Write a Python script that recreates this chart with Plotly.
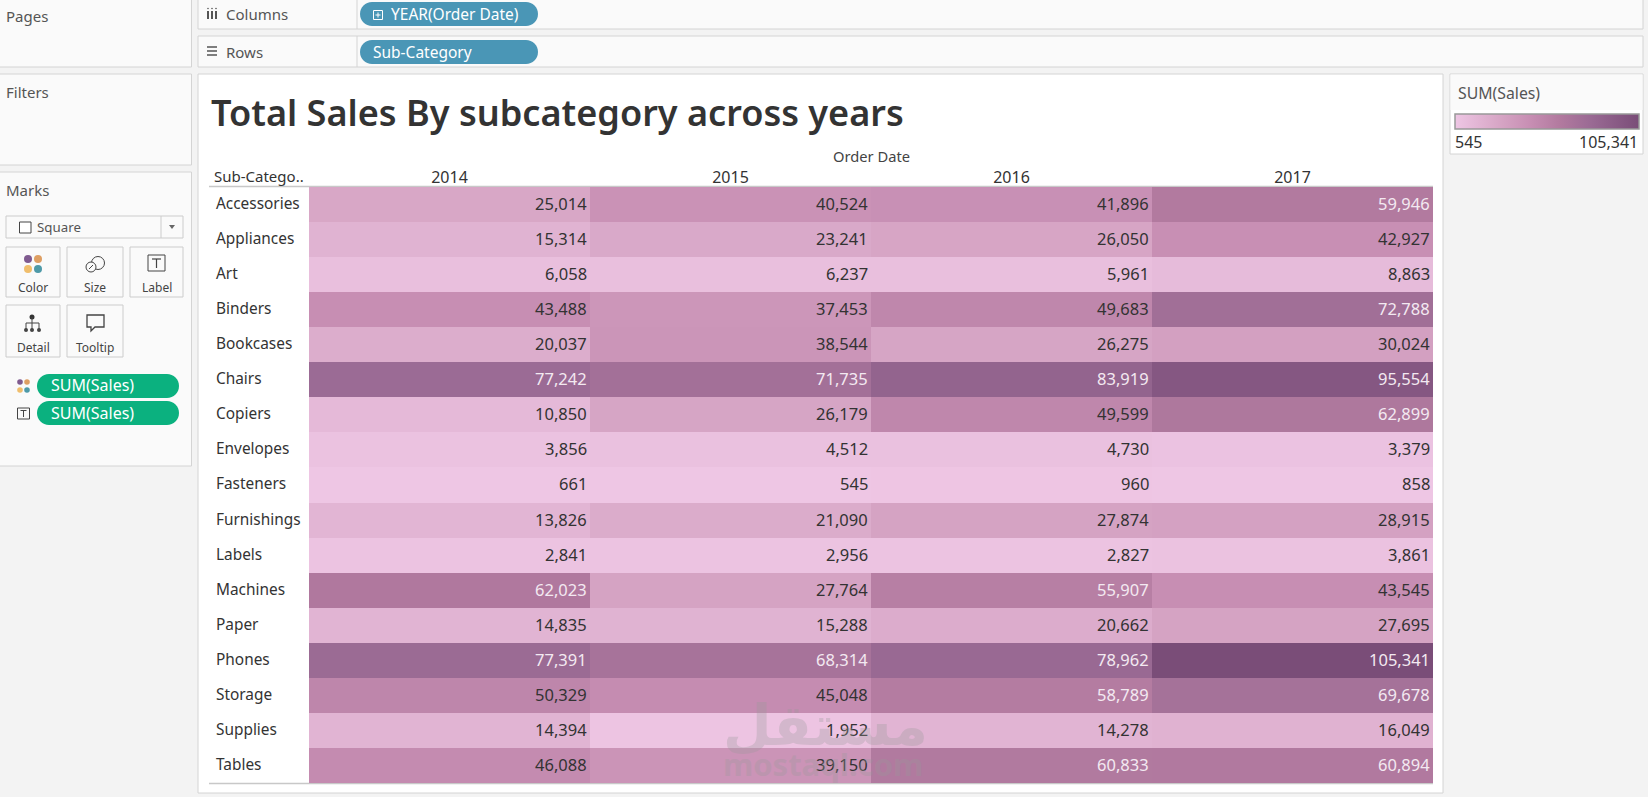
import plotly.graph_objects as go

W, H = 1648, 797

sub_categories = ["Accessories", "Appliances", "Art", "Binders", "Bookcases", "Chairs", "Copiers",
                  "Envelopes", "Fasteners", "Furnishings", "Labels", "Machines", "Paper", "Phones",
                  "Storage", "Supplies", "Tables"]
years = ["2014", "2015", "2016", "2017"]
sales_2014 = [25014, 15314, 6058, 43488, 20037, 77242, 10850, 3856, 661, 13826, 2841, 62023, 14835, 77391, 50329, 14394, 46088]
sales_2015 = [40524, 23241, 6237, 37453, 38544, 71735, 26179, 4512, 545, 21090, 2956, 27764, 15288, 68314, 45048, 1952, 39150]
sales_2016 = [41896, 26050, 5961, 49683, 26275, 83919, 49599, 4730, 960, 27874, 2827, 55907, 20662, 78962, 58789, 14278, 60833]
sales_2017 = [59946, 42927, 8863, 72788, 30024, 95554, 62899, 3379, 858, 28915, 3861, 43545, 27695, 105341, 69678, 16049, 60894]
sales_by_year = [sales_2014, sales_2015, sales_2016, sales_2017]
sales_min, sales_max = 545, 105341
color_stops = [[0, "#EEC6E4"], [0.26, "#D5A3C3"], [0.41, "#C78EB3"], [0.57, "#B27A9F"], [0.74, "#9A6A94"], [1, "#7A4D78"]]
white_text_from = 55000

FONT = "Noto Sans"
PANEL_BG, PANEL_LINE, PAGE_BG = "#FAFAFA", "#D4D4D4", "#F3F3F3"
TEXT, LABEL = "#333333", "#555555"
LIGHT_TEXT = "#F3E9F1"
BLUE, GREEN = "#4A96B6", "#0BB17F"


def X(p):
    return p / W


def Y(p):
    return 1 - p / H


shapes, notes = [], []


def rect(x0, y0, x1, y1, fill="rgba(0,0,0,0)", line=PANEL_LINE, width=1, layer="below"):
    shapes.append(dict(type="rect", xref="paper", yref="paper", x0=X(x0), y0=Y(y0), x1=X(x1), y1=Y(y1),
                       fillcolor=fill, line=dict(color=line, width=width), layer=layer))


def circle(cx, cy, r, fill="rgba(0,0,0,0)", line="rgba(0,0,0,0)", width=1):
    shapes.append(dict(type="circle", xref="paper", yref="paper", x0=X(cx - r), y0=Y(cy - r), x1=X(cx + r), y1=Y(cy + r),
                       fillcolor=fill, line=dict(color=line, width=width), layer="below"))


def seg(x0, y0, x1, y1, color=LABEL, width=1):
    shapes.append(dict(type="line", xref="paper", yref="paper", x0=X(x0), y0=Y(y0), x1=X(x1), y1=Y(y1),
                       line=dict(color=color, width=width), layer="below"))


def pill(x0, y0, x1, y1, fill):
    r = (y1 - y0) / 2
    k = r * 0.45
    pts = [("M", x0 + r, y0), ("L", x1 - r, y0),
           ("C", x1 - k, y0, x1, y0 + k, x1, y0 + r), ("C", x1, y1 - k, x1 - k, y1, x1 - r, y1),
           ("L", x0 + r, y1),
           ("C", x0 + k, y1, x0, y1 - k, x0, y0 + r), ("C", x0, y0 + k, x0 + k, y0, x0 + r, y0)]
    path = ""
    for p in pts:
        nums = p[1:]
        coords = [f"{X(nums[i]):.5f},{Y(nums[i + 1]):.5f}" for i in range(0, len(nums), 2)]
        path += p[0] + " ".join(coords) + " "
    shapes.append(dict(type="path", xref="paper", yref="paper", path=path + "Z", fillcolor=fill,
                       line=dict(width=0), layer="below"))


def label(x, y, text, size=15, color=LABEL, anchor="left", weight=400, family=FONT, opacity=1.0):
    notes.append(dict(xref="paper", yref="paper", x=X(x), y=Y(y), text=text,
                      showarrow=False, xanchor=anchor, yanchor="middle", opacity=opacity,
                      font=dict(family=family, size=size, color=color, weight=weight), borderpad=0, borderwidth=0))


# Side panels and shelves
rect(-2, -2, 191.5, 67, PANEL_BG)
rect(-2, 74, 191.5, 165, PANEL_BG)
rect(-2, 172, 191.5, 466, PANEL_BG)
rect(198, -2, 1643, 29, PANEL_BG)
rect(198, 36, 1643, 67, PANEL_BG)
seg(357, 0, 357, 29, PANEL_LINE)
seg(357, 36, 357, 67, PANEL_LINE)
rect(198, 74, 1443, 793, "#FFFFFF")
rect(1450, 74, 1643, 154, "#FFFFFF")
rect(1450.5, 74.5, 1642.5, 110, PANEL_BG, line="rgba(0,0,0,0)", width=0)

label(6, 16, "Pages")
label(6, 92, "Filters")
label(6, 190, "Marks")
label(226, 13.5, "Columns")
label(226, 52, "Rows")

# Shelf icons
for px in (208, 212, 216):
    seg(px, 11, px, 19, "#555555", 2)
    circle(px, 8.5, 0.8, "#555555")
for py in (47, 51, 55):
    seg(207, py, 217, py, "#555555", 1.5)

pill(360, 2, 538, 26, BLUE)
pill(360, 40, 538, 64, BLUE)
rect(373.5, 10.5, 382.5, 19.5, line="#FFFFFF")
seg(375.5, 15, 380.5, 15, "#FFFFFF")
seg(378, 12.5, 378, 17.5, "#FFFFFF")
label(391, 14, "YEAR(Order Date)", color="#FFFFFF", size=15.5)
label(373, 52, "Sub-Category", color="#FFFFFF", size=15.5)

# Marks card
rect(6, 216, 183, 238, "#FAFAFA", line="#CCCCCC")
seg(161, 216, 161, 238, "#CCCCCC")
rect(19.5, 222, 31, 233, "#FFFFFF", line="#444444")
label(37, 227, "Square", size=13.3)
shapes.append(dict(type="path", xref="paper", yref="paper", fillcolor="#666666", line=dict(width=0), layer="below",
                   path=f"M{X(169)},{Y(225)} L{X(175)},{Y(225)} L{X(172)},{Y(229)} Z"))

for (x0, y0, x1, y1, txt) in [(6, 247, 60, 297, "Color"), (67, 247, 123, 297, "Size"), (130, 247, 183, 297, "Label"),
                              (6, 305, 60, 357, "Detail"), (67, 305, 123, 357, "Tooltip")]:
    rect(x0, y0, x1, y1, "#FAFAFA", line="#CCCCCC")
    label((x0 + x1) / 2, y1 - 10, txt, size=12, anchor="center", color="#444444")

DOTS = ["#7F5A8F", "#DE9F63", "#F0BE6C", "#4E9AA8"]
circle(28, 259, 4, DOTS[0])
circle(38, 259, 4, DOTS[1])
circle(28, 269, 4, DOTS[2])
circle(38, 269, 4, DOTS[3])

circle(98, 263, 6.5, line="#444444")
circle(91, 267, 5, "#FAFAFA", "#444444")
seg(89, 269, 93, 265, "#444444")

rect(148, 255, 165, 271, "#FAFAFA", line="#444444")
seg(152, 259, 161, 259, "#444444", 1.2)
seg(156.5, 259, 156.5, 268, "#444444", 1.2)

circle(32, 317, 2.5, "#333333")
seg(32, 317, 32, 323, "#444444")
seg(26, 323, 39, 323, "#444444")
for px in (26, 32, 39):
    seg(px, 323, px, 330, "#444444")
    circle(px, 330, 2, "#444444")

shapes.append(dict(type="path", xref="paper", yref="paper", fillcolor="rgba(0,0,0,0)",
                   line=dict(color="#444444", width=1.3), layer="below",
                   path=f"M{X(87)},{Y(315)} L{X(104)},{Y(315)} L{X(104)},{Y(327)} L{X(95)},{Y(327)} "
                        f"L{X(91)},{Y(331)} L{X(91)},{Y(327)} L{X(87)},{Y(327)} Z"))

pill(37, 374, 179, 398, GREEN)
pill(37, 401, 179, 425, GREEN)
label(51, 385.5, "SUM(Sales)", color="#FFFFFF", size=16)
label(51, 412.5, "SUM(Sales)", color="#FFFFFF", size=16)
circle(20, 382, 2.8, DOTS[0])
circle(27, 382, 2.8, DOTS[1])
circle(20, 390, 2.8, DOTS[2])
circle(27, 390, 2.8, DOTS[3])
rect(17.5, 408, 29.5, 419, "#FAFAFA", line="#444444")
seg(20.5, 410.5, 26.5, 410.5, "#444444")
seg(23.5, 410.5, 23.5, 417, "#444444")

# View header
label(211, 112, "Total Sales By subcategory across years", size=36.1, color="#333333", weight=600)
label(871, 156, "Order Date", size=14.7, anchor="center", color="#444444")
label(214, 176.5, "Sub-Catego..", size=15, color=TEXT)
seg(209, 186.5, 1433, 186.5, "#C8C8C8", 1.5)
seg(209, 783.5, 1433, 783.5, "#C8C8C8", 1.5)

# Legend card
label(1458, 92.5, "SUM(Sales)", size=15.8)
label(1455, 141.5, f"{sales_min:,}", size=16, color=TEXT)
label(1638, 141.5, f"{sales_max:,}", size=16, color=TEXT, anchor="right")

# Row labels and cell values
for name in sub_categories:
    notes.append(dict(xref="paper", yref="y", x=X(213.5), y=name, text=name, showarrow=False, xanchor="left",
                      yanchor="middle", yshift=1, font=dict(family=FONT, size=15.4, color=TEXT)))
for col, values in enumerate(sales_by_year):
    for name, value in zip(sub_categories, values):
        notes.append(dict(xref="x", yref="y", x=col + 0.5, y=name, text=f"{value:,}", showarrow=False,
                          xanchor="right", yanchor="middle", xshift=-1.5, yshift=1,
                          font=dict(family=FONT, size=16.5, color=LIGHT_TEXT if value >= white_text_from else TEXT)))

# Faint marketplace stamp over the lower part of the table
label(825, 725, "مستقل", size=56, color="#9A9A9A", anchor="center", family="DejaVu Sans", opacity=0.3, weight=700)
label(823, 764, "mostaql.com", size=31, color="#9A9A9A", anchor="center", family="Noto Sans", opacity=0.3, weight=700)

fig = go.Figure(go.Heatmap(
    x=years,
    y=sub_categories,
    z=[[sales_by_year[c][r] for c in range(4)] for r in range(len(sub_categories))],
    zmin=sales_min,
    zmax=sales_max,
    colorscale=color_stops,
    xgap=0,
    ygap=0,
    hoverongaps=False,
    colorbar=dict(orientation="h", xref="container", yref="container",
                  x=1455 / W, xanchor="left", y=1 - 114 / H, yanchor="top",
                  lenmode="pixels", len=184, thicknessmode="pixels", thickness=15,
                  outlinecolor="#999999", outlinewidth=1.5, showticklabels=False, ticks="",
                  xpad=0, ypad=0, bgcolor="rgba(0,0,0,0)"),
))

fig.update_layout(
    width=W, height=H, autosize=False,
    margin=dict(l=0, r=0, t=0, b=0, autoexpand=False),
    paper_bgcolor=PAGE_BG,
    plot_bgcolor="#FFFFFF",
    shapes=shapes,
    annotations=notes,
    xaxis=dict(domain=[X(309), X(1433)], type="category", side="top", showgrid=False, zeroline=False,
               ticks="", ticklen=0, tickfont=dict(family=FONT, size=16, color=TEXT), showline=False),
    yaxis=dict(domain=[Y(783), Y(187)], type="category", autorange="reversed", showgrid=False, zeroline=False,
               ticks="", showticklabels=False, showline=False),
)

fig.write_html("out.html", config=dict(displayModeBar=False))
